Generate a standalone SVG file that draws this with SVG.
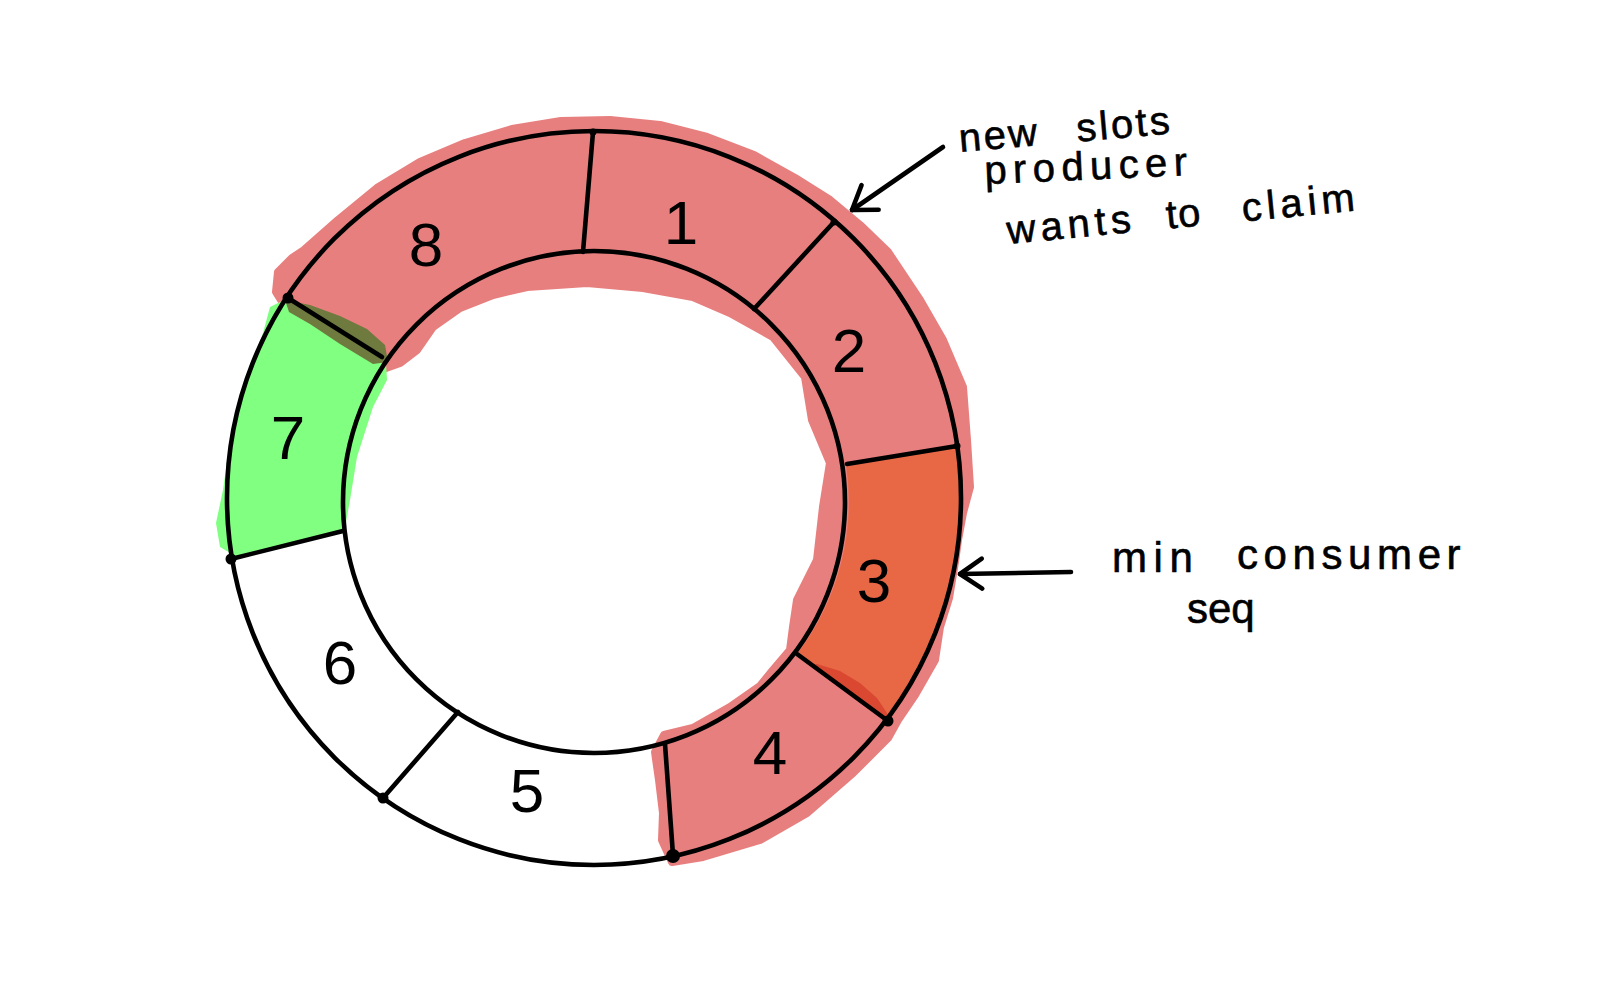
<svg xmlns="http://www.w3.org/2000/svg" width="1620" height="1000" viewBox="0 0 1620 1000">
  <style>
    .ink { fill: none; stroke: #000; stroke-width: 4.6; stroke-linecap: round; stroke-linejoin: round; }
    .dot { fill: #000; }
    .num { font-family: "Liberation Sans", Arial, sans-serif; font-size: 62px; fill: #000; text-anchor: middle; }
    .note { font-family: "Liberation Sans", Arial, sans-serif; font-size: 40px; fill: #000; stroke: #000; stroke-width: 0.6px; }
    .note2 { font-family: "Liberation Sans", Arial, sans-serif; font-size: 42px; fill: #000; stroke: #000; stroke-width: 0.6px; }
    .pink { fill: #E87F7F; }
    .orange { fill: #E86846; }
    .green { fill: #80FF80; }
    .olive { fill: #6E7A3E; }
    .red { fill: #DA4832; }
  </style>
  <defs>
    <marker id="open-arrow" markerUnits="userSpaceOnUse" markerWidth="40" markerHeight="40" viewBox="-30 -20 40 40" refX="0" refY="0" orient="auto" overflow="visible">
      <path d="M -22 -15 L 0 0 L -22 15" fill="none" stroke="#000" stroke-width="4.6" stroke-linecap="round" stroke-linejoin="round"/>
    </marker>
  </defs>
  <rect x="0" y="0" width="1620" height="1000" fill="#fff"/>

  <!-- highlighter wash behind slots 8,1,2,3,4 -->
  <g id="highlight">
    <polygon class="pink" stroke="#E87F7F" stroke-width="8" stroke-linejoin="round" points="286,308 276,292 278,272 292,258 304,250 338,220 377,188 420,162 465,143 512,129 561,121 610,120 660,125 707,137 754,155 795,178 830,200 860,225 888,252 920,300 943,340 963,387 967,440 970,487 963,513 958,540 955,562 949,598 940,627 935,660 915,695 898,720 888,738 853,773 807,813 760,840 703,857 672,862 662,840 663,813 659,780 655,752 664,735 693,728 730,707 760,686 773,670 790,650 793,627 797,600 817,560 823,507 830,463 812,420 805,377 773,337 730,313 693,297 643,288 587,283 527,287 493,295 460,308 433,327 417,350 400,363 386,368 370,362 333,337 300,318"/>
  </g>

  <g id="slot-8">
    <path class="pink" d="M 288 298 A 367 367 0 0 1 593 132 L 583 252 A 251 251 0 0 0 382 357 Z"/>
    <text class="num" x="426" y="266">8</text>
  </g>
  <g id="slot-1">
    <path class="pink" d="M 593 132 A 367 367 0 0 1 834 222 L 754 309 A 251 251 0 0 0 583 252 Z"/>
    <text class="num" x="681" y="244">1</text>
  </g>
  <g id="slot-2">
    <path class="pink" d="M 834 222 A 367 367 0 0 1 957 446 L 846 464 A 251 251 0 0 0 754 309 Z"/>
    <text class="num" x="849" y="372">2</text>
  </g>
  <g id="slot-3">
    <path class="orange" d="M 957 446 A 367 367 0 0 1 888 721 L 797 654 A 251 251 0 0 0 846 464 Z"/>
    <polygon class="red" points="812,665 817,664 840,671 860,683 877,698 887,713 888,721 797,654"/>
    <text class="num" x="874" y="602">3</text>
  </g>
  <g id="slot-4">
    <path class="pink" d="M 888 721 A 367 367 0 0 1 673 855 L 665 744 A 251 251 0 0 0 797 654 Z"/>
    <text class="num" x="770" y="774">4</text>
  </g>
  <g id="slot-5">
    <text class="num" x="527" y="812">5</text>
  </g>
  <g id="slot-6">
    <text class="num" x="340" y="684">6</text>
  </g>
  <g id="slot-7">
    <polygon class="green" points="284,300 270,307 263,333 243,390 230,440 223,490 216,523 220,547 237,557 283,545 333,534 345,528 350,500 357,457 373,407 387,380 386,363 372,362 333,337 300,318"/>
    <polygon class="olive" points="285,300 310,305 340,316 367,329 385,345 388,362 373,364 340,344 310,324 289,312"/>
    <text class="num" x="288" y="459">7</text>
  </g>

  <!-- ring outlines and slot dividers -->
  <g id="ring">
    <circle class="ink" cx="594" cy="498" r="367"/>
    <circle class="ink" cx="594" cy="502" r="251"/>
    <path class="ink" d="M 593 132 L 583 252"/>
    <path class="ink" d="M 834 222 L 754 309"/>
    <path class="ink" d="M 957 446 L 847 464"/>
    <path class="ink" d="M 888 721 L 797 654"/>
    <path class="ink" d="M 673 855 L 665 744"/>
    <path class="ink" d="M 383 798 L 458 712"/>
    <path class="ink" d="M 231 559 L 343 531"/>
    <path class="ink" d="M 288 298 L 382 357"/>
    <circle class="dot" cx="593" cy="132" r="3.5"/>
    <circle class="dot" cx="834" cy="222" r="3.5"/>
    <circle class="dot" cx="957" cy="446" r="3.5"/>
    <circle class="dot" cx="888" cy="721" r="5.5"/>
    <circle class="dot" cx="673" cy="856" r="7"/>
    <circle class="dot" cx="383" cy="798" r="5.5"/>
    <circle class="dot" cx="231" cy="559" r="5.5"/>
    <circle class="dot" cx="288" cy="298" r="5.5"/>
  </g>

  <!-- annotation arrows -->
  <g id="connectors">
    <path class="ink" d="M 943 147 L 852 210" marker-end="url(#open-arrow)"/>
    <path class="ink" d="M 1071 572 L 960 574" marker-end="url(#open-arrow)"/>
  </g>

  <g id="label-producer">
    <text class="note" x="960" y="152" transform="rotate(-5 960 152)"><tspan style="letter-spacing:2.5px">new </tspan><tspan x="1078" style="letter-spacing:2.8px">slots</tspan></text>
    <text class="note" x="985" y="184" transform="rotate(-2.5 985 184)" style="letter-spacing:6.4px">producer</text>
    <text class="note" x="1008" y="244" transform="rotate(-5.5 1008 244)"><tspan style="letter-spacing:5px">wants </tspan><tspan x="1168" style="letter-spacing:1px">to </tspan><tspan x="1244" style="letter-spacing:5px">claim</tspan></text>
  </g>
  <g id="label-consumer">
    <text class="note2" x="1112" y="572"><tspan style="letter-spacing:6.6px">min </tspan><tspan x="1237" y="569" style="letter-spacing:5.6px">consumer</tspan></text>
    <text class="note2" x="1187" y="623">seq</text>
  </g>
</svg>
